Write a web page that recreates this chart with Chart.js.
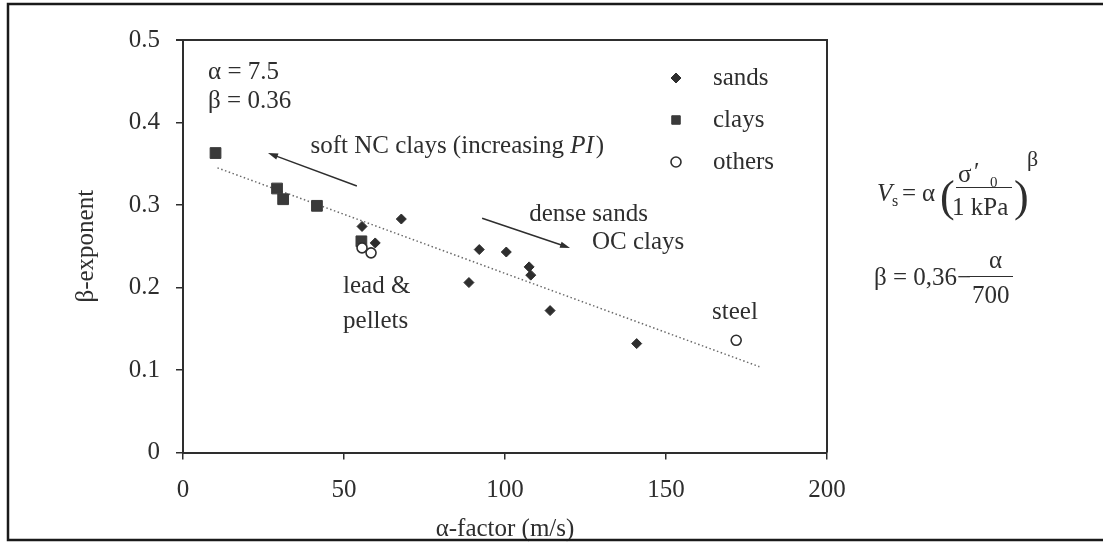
<!DOCTYPE html>
<html>
<head>
<meta charset="utf-8">
<script src="https://cdn.jsdelivr.net/npm/chart.js@4/dist/chart.umd.min.js"></script>
<style>
  html, body { margin: 0; padding: 0; background: #ffffff; }
  canvas { display: block; }
</style>
</head>
<body>
<canvas id="betaChart" width="1103" height="542"></canvas>
<script>
// === DATA ===
const alphaSands  = [55.6, 59.7, 67.8, 88.8, 92.0, 100.4, 107.5, 108.0, 114.0, 140.9];
const betaSands   = [0.274, 0.254, 0.283, 0.206, 0.246, 0.243, 0.225, 0.215, 0.172, 0.132];
const alphaClays  = [10.1, 29.2, 31.1, 41.6, 55.4];
const betaClays   = [0.363, 0.320, 0.307, 0.299, 0.256];
const alphaOthers = [55.6, 58.4, 171.8];
const betaOthers  = [0.248, 0.242, 0.136];
const alphaTrend  = [10.7, 179];
const betaTrend   = [0.345, 0.104];

const xTickLabels = ['0', '50', '100', '150', '200'];
const yTickLabels = ['0', '0.1', '0.2', '0.3', '0.4', '0.5'];

const legendNames = ['sands', 'clays', 'others'];

// arrows in (alpha, beta): tail -> head
const arrowTails = [[54.0, 0.323], [92.9, 0.284]];
const arrowHeads = [[26.4, 0.363], [120.2, 0.248]];

const INK   = '#2e2e2e';
const SERIF = '"Liberation Serif", "DejaVu Serif", serif';
const FS    = 25;

const toPoints = (xs, ys) => xs.map((x, i) => ({ x, y: ys[i] }));

function font(size, italic) {
    return (italic ? 'italic ' : '') + size + 'px ' + SERIF;
}

function text(ctx, str, x, y, size, opts = {}) {
    ctx.font         = font(size, opts.italic);
    ctx.fillStyle    = INK;
    ctx.textAlign    = opts.align || 'left';
    ctx.textBaseline = opts.baseline || 'alphabetic';
    ctx.fillText(str, x, y);
    return ctx.measureText(str).width;
}

function arrow(ctx, x0, y0, x1, y1) {
    const ang = Math.atan2(y1 - y0, x1 - x0);
    const len = 10, half = 3.2;
    ctx.strokeStyle = INK;
    ctx.fillStyle   = INK;
    ctx.lineWidth   = 1.5;
    ctx.beginPath();
    ctx.moveTo(x0, y0);
    ctx.lineTo(x1 - Math.cos(ang) * len * 0.6, y1 - Math.sin(ang) * len * 0.6);
    ctx.stroke();
    ctx.beginPath();
    ctx.moveTo(x1, y1);
    ctx.lineTo(x1 - Math.cos(ang) * len - Math.sin(ang) * half, y1 - Math.sin(ang) * len + Math.cos(ang) * half);
    ctx.lineTo(x1 - Math.cos(ang) * len + Math.sin(ang) * half, y1 - Math.sin(ang) * len - Math.cos(ang) * half);
    ctx.closePath();
    ctx.fill();
}

// === PLOT DECORATIONS ===
const decorations = {
    id: 'decorations',
    afterDatasetsDraw(chart) {
        const { ctx, chartArea: area, scales: { x, y } } = chart;
        const px = a => x.getPixelForValue(a);
        const py = b => y.getPixelForValue(b);

        ctx.save();

        // top and right edges of the plot box
        ctx.strokeStyle = INK;
        ctx.lineWidth   = 2;
        ctx.beginPath();
        ctx.moveTo(area.left - 7, area.top);
        ctx.lineTo(area.right, area.top);
        ctx.lineTo(area.right, area.bottom);
        ctx.stroke();

        arrowTails.forEach((t, i) => {
            const h = arrowHeads[i];
            arrow(ctx, px(t[0]), py(t[1]), px(h[0]), py(h[1]));
        });

        // in-plot labels
        text(ctx, 'α = 7.5',  px(7.8), py(0.461), FS, { baseline: 'middle' });
        text(ctx, 'β = 0.36', px(7.8), py(0.425), FS, { baseline: 'middle' });

        let cx = px(39.6);
        const cy = py(0.3715);
        cx += text(ctx, 'soft NC clays (increasing ', cx, cy, FS, { baseline: 'middle' });
        cx += text(ctx, 'PI', cx, cy, FS, { baseline: 'middle', italic: true });
        text(ctx, ')', cx + 2, cy, FS, { baseline: 'middle' });

        text(ctx, 'dense sands', px(107.5), py(0.288), FS, { baseline: 'middle' });
        text(ctx, 'OC clays',    px(127.0), py(0.255), FS, { baseline: 'middle' });
        text(ctx, 'lead &',      px(49.7),  py(0.201), FS, { baseline: 'middle' });
        text(ctx, 'pellets',     px(49.7),  py(0.159), FS, { baseline: 'middle' });
        text(ctx, 'steel',       px(164.3), py(0.170), FS, { baseline: 'middle' });

        // legend, drawn with the same point styles as the datasets
        const lx = area.right - 151;
        chart.data.datasets.slice(0, 3).forEach(ds => {
            const idx  = legendNames.indexOf(ds.label);
            const ly   = area.top + 38 + idx * 42;
            ctx.fillStyle   = ds.backgroundColor;
            ctx.strokeStyle = ds.borderColor;
            ctx.lineWidth   = ds.borderWidth;
            Chart.helpers.drawPoint(ctx, {
                pointStyle:  ds.pointStyle,
                radius:      ds.label === 'clays' ? 6 : 5,
                borderWidth: ds.borderWidth,
                rotation:    0,
            }, lx, ly);
            text(ctx, ds.label, lx + 37, ly, FS, { baseline: 'middle' });
        });

        ctx.restore();
    },
    afterDraw(chart) {
        const { ctx } = chart;
        ctx.save();

        // Vs = alpha (sigma'0 / 1 kPa)^beta
        text(ctx, 'V', 877, 201, FS, { italic: true });
        text(ctx, 's', 892, 206, 16);
        text(ctx, '=', 902, 201, FS);
        text(ctx, 'α', 922, 201, FS);
        text(ctx, '(', 940, 211, 44);
        text(ctx, 'σ', 958, 182, FS);
        text(ctx, '′', 974, 180, FS);
        text(ctx, '0', 990, 187, 15);
        ctx.strokeStyle = INK;
        ctx.lineWidth   = 1.2;
        ctx.beginPath();
        ctx.moveTo(956, 187.5);
        ctx.lineTo(1012, 187.5);
        ctx.stroke();
        text(ctx, '1 kPa', 952, 215, FS);
        text(ctx, ')', 1014, 211, 44);
        text(ctx, 'β', 1027, 166, 22);

        // beta = 0,36 - alpha / 700
        text(ctx, 'β = 0,36−', 874, 285, FS);
        text(ctx, 'α', 989, 268, FS);
        ctx.beginPath();
        ctx.moveTo(967, 276.5);
        ctx.lineTo(1013, 276.5);
        ctx.stroke();
        text(ctx, '700', 972, 303, FS);

        // outer frame
        ctx.strokeStyle = '#1a1a1a';
        ctx.lineWidth   = 2.5;
        ctx.beginPath();
        ctx.moveTo(1103, 4);
        ctx.lineTo(8, 4);
        ctx.lineTo(8, 540);
        ctx.lineTo(1103, 540);
        ctx.stroke();

        ctx.restore();
    },
};

// === CHART ===
const tickFont = { family: SERIF, size: FS };

new Chart(document.getElementById('betaChart').getContext('2d'), {
    type: 'scatter',
    data: {
        datasets: [
            {
                label:           'others',
                data:            toPoints(alphaOthers, betaOthers),
                pointStyle:      'circle',
                pointRadius:     5,
                backgroundColor: '#ffffff',
                borderColor:     INK,
                borderWidth:     1.6,
            },
            {
                label:           'sands',
                data:            toPoints(alphaSands, betaSands),
                pointStyle:      'rectRot',
                pointRadius:     5,
                backgroundColor: INK,
                borderColor:     INK,
                borderWidth:     1,
            },
            {
                label:           'clays',
                data:            toPoints(alphaClays, betaClays),
                pointStyle:      'rect',
                pointRadius:     7.6,
                backgroundColor: '#3a3a3a',
                borderColor:     '#3a3a3a',
                borderWidth:     1,
            },
            {
                label:       'trend',
                data:        toPoints(alphaTrend, betaTrend),
                showLine:    true,
                borderColor: '#6a6a6a',
                borderWidth: 1.5,
                borderDash:  [1.5, 2.5],
                pointRadius: 0,
            },
        ],
    },
    options: {
        responsive: false,
        animation:  false,
        devicePixelRatio: 1,
        layout: { padding: { left: 8, right: 276, top: 40, bottom: 0 } },
        plugins: {
            legend:  { display: false },
            tooltip: { enabled: false },
        },
        scales: {
            x: {
                type: 'linear',
                min: 0,
                max: 200,
                afterFit: scale => { scale.height = 89.5; },
                border: { display: true, color: INK, width: 2 },
                grid: {
                    drawOnChartArea: false,
                    drawTicks:       true,
                    tickLength:      7,
                    color:           INK,
                    lineWidth:       1.5,
                },
                ticks: {
                    stepSize: 50,
                    color:    INK,
                    font:     tickFont,
                    padding:  16,
                    maxRotation: 0,
                    callback: (value, index) => xTickLabels[index],
                },
                title: {
                    display: true,
                    text:    'α-factor (m/s)',
                    color:   INK,
                    font:    { family: SERIF, size: FS, lineHeight: 1 },
                    padding: 0,
                },
            },
            y: {
                type: 'linear',
                min: 0,
                max: 0.5,
                afterFit: scale => { scale.width = 175; },
                border: { display: true, color: INK, width: 2 },
                grid: {
                    drawOnChartArea: false,
                    drawTicks:       true,
                    tickLength:      7,
                    color:           INK,
                    lineWidth:       1.5,
                },
                ticks: {
                    stepSize: 0.1,
                    color:    INK,
                    font:     tickFont,
                    padding:  16,
                    callback: (value, index) => yTickLabels[index],
                },
                title: {
                    display: true,
                    text:    'β-exponent',
                    color:   INK,
                    font:    { family: SERIF, size: FS, lineHeight: 1 },
                    padding: { top: 66, bottom: 0 },
                },
            },
        },
    },
    plugins: [decorations],
});
</script>
</body>
</html>
